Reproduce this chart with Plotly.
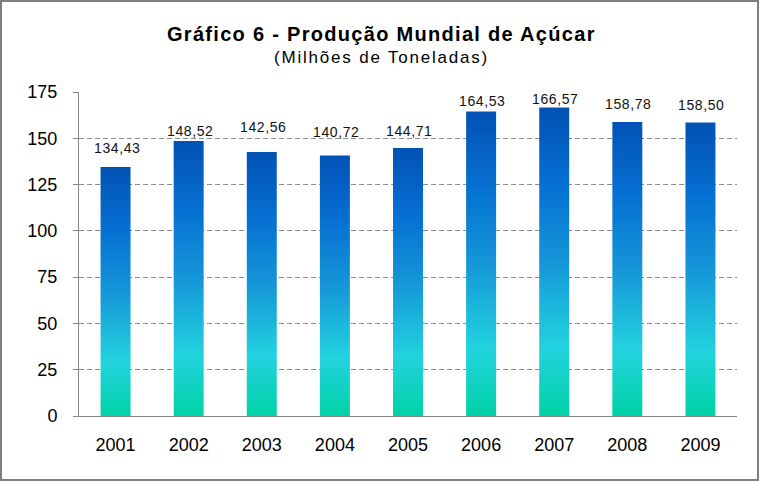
import plotly.graph_objects as go

anos = ["2001", "2002", "2003", "2004", "2005", "2006", "2007", "2008", "2009"]
producao = [134.43, 148.52, 142.56, 140.72, 144.71, 164.53, 166.57, 158.78, 158.50]
rotulos = ["134,43", "148,52", "142,56", "140,72", "144,71", "164,53", "166,57", "158,78", "158,50"]

W, H = 761, 482
L, R, T, B = 79, 24, 92, 66
PW, PH = W - L - R, H - T - B
FONTE = "Liberation Sans, Arial, sans-serif"

# deslocamento vertical (px) de cada rótulo acima da barra, como no original
desloc_rotulo = [19, 10, 25, 23, 17, 10, 9, 18, 18]

# degradê das barras (base -> topo)
gradiente = [
    [0.0, "#00D2A6"],
    [0.22, "#22D3DE"],
    [0.5, "#1596D8"],
    [0.75, "#0570D2"],
    [1.0, "#0252B4"],
]
meia = 0.205


def px_x(p):
    return (p - L) / PW


def px_y(p):
    return (H - B - p) / PH


fig = go.Figure()

for i, v in enumerate(producao):
    fig.add_trace(go.Scatter(
        x=[i - meia, i + meia, i + meia, i - meia, i - meia],
        y=[0, 0, v, v, 0],
        mode="lines", line=dict(width=0), fill="toself",
        fillgradient=dict(type="vertical", colorscale=gradiente, start=0, stop=v),
        hoverinfo="skip", showlegend=False,
    ))

# rótulos de valor
for i, (v, txt) in enumerate(zip(producao, rotulos)):
    fig.add_annotation(x=i, y=v, text=f"<span style='letter-spacing:0.6px'>{txt}</span>",
                       showarrow=False, yanchor="middle", yshift=desloc_rotulo[i], xshift=1,
                       font=dict(size=14, color="#111111", family=FONTE))

# título e subtítulo
fig.add_annotation(x=px_x(381), xref="paper", y=px_y(34), yref="paper",
                   text="<span style='letter-spacing:1.3px'><b>Gráfico 6 - Produção Mundial de Açúcar</b></span>",
                   showarrow=False, font=dict(size=20, color="#000000", family=FONTE),
                   xanchor="center", yanchor="middle")
fig.add_annotation(x=px_x(381), xref="paper", y=px_y(58), yref="paper",
                   text="<span style='letter-spacing:1.8px'>(Milhões de Toneladas)</span>",
                   showarrow=False, font=dict(size=17, color="#000000", family=FONTE),
                   xanchor="center", yanchor="middle")

# moldura do gráfico
fig.add_shape(type="rect", xref="paper", yref="paper",
              x0=px_x(1), x1=px_x(758), y0=px_y(480), y1=px_y(1),
              line=dict(color="#7F7F7F", width=2), layer="below")

fig.update_layout(
    width=W, height=H,
    margin=dict(l=L, r=R, t=T, b=B),
    paper_bgcolor="white", plot_bgcolor="white",
    font=dict(family=FONTE, color="#000000"),
    xaxis=dict(range=[-0.5, len(anos) - 0.5], tickvals=list(range(len(anos))), ticktext=anos,
               showgrid=False, zeroline=False, showline=True, linecolor="#868686", linewidth=1,
               ticks="", tickfont=dict(size=18), ticklabelstandoff=12),
    yaxis=dict(range=[0, 175], dtick=25, showgrid=True, gridcolor="#8C8C8C", griddash="5px,3px",
               gridwidth=1, zeroline=False, showline=True, linecolor="#868686", linewidth=1,
               ticks="outside", ticklen=5, tickcolor="#868686", tickfont=dict(size=18),
               ticklabelstandoff=12),
)

fig.write_html("out.html", config={"displayModeBar": False},
               post_script=["document.body.style.margin = '0';"])
